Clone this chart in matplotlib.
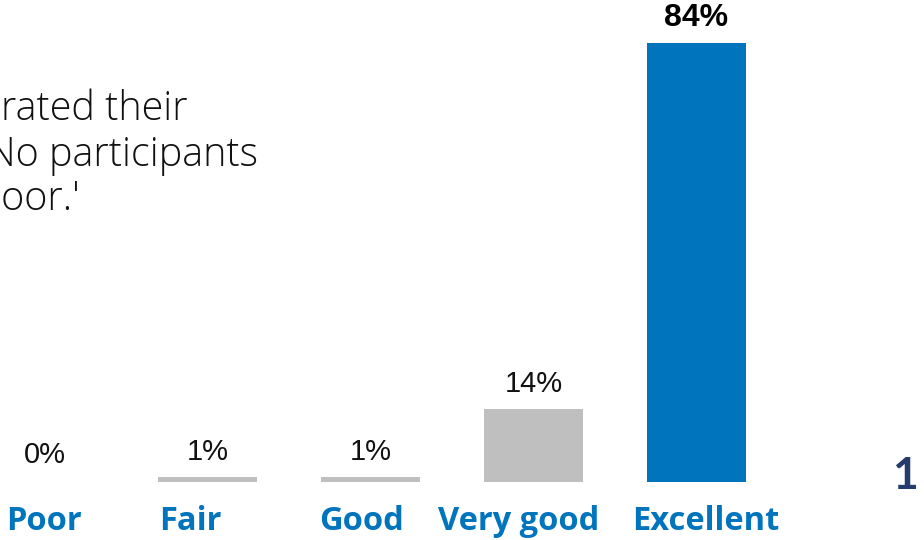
import matplotlib
matplotlib.use("Agg")
import matplotlib.pyplot as plt
import matplotlib.transforms as mtransforms

categories = ["Poor", "Fair", "Good", "Very good", "Excellent"]
shares = [0, 1, 1, 14, 84]
value_labels = ["0%", "1%", "1%", "14%", "84%"]
highlight = "Excellent"

body_lines = ["rated their", "No participants", "Poor.'"]
slide_number = "1"

BLUE = "#0074bc"
GREY = "#bfbfbf"
NAVY = "#253c6e"
INK = "#111111"

W, H, DPI = 924, 540, 100
fig = plt.figure(figsize=(W / DPI, H / DPI), dpi=DPI)
fig.patch.set_facecolor("white")

# pixel layout of the plotting area: bar baseline and spacing
base_px = 482
step_px = 163
first_px = 44.5
unit_px = 439 / 84

ax = fig.add_axes([0, 0, 1, 1])
ax.set_xlim(-first_px / step_px, (W - first_px) / step_px)
ax.set_ylim(-(H - base_px) / unit_px, base_px / unit_px)
ax.axis("off")

xs = list(range(len(categories)))
colors = [BLUE if c == highlight else GREY for c in categories]
ax.bar(xs, shares, width=0.61, color=colors, linewidth=0)

for x, v, lab, cat in zip(xs, shares, value_labels, categories):
    bold = cat == highlight
    ax.annotate(lab, (x, v), xytext=(0, 12 if v > 0 else 14), textcoords="offset points",
                ha="center", va="baseline", fontsize=23 if bold else 21,
                fontweight="bold" if bold else "normal",
                family="Liberation Sans", color="black" if bold else INK)

# category names under the bars (hand-nudged text boxes, in pixels)
label_nudge = [-1, -17, -9, -15, 9]
trans = mtransforms.blended_transform_factory(ax.transData, fig.transFigure)
for x, cat, dx in zip(xs, categories, label_nudge):
    ax.text(x + dx / step_px, 10 / H, cat, transform=trans, ha="center", va="baseline",
            fontsize=23.5, fontweight="bold", family="Open Sans", color=BLUE)

# body copy, running in from the left edge
body_x = [1, -13, -22]
body_y = [120, 166, 210]
for txt, bx, by in zip(body_lines, body_x, body_y):
    fig.text(bx / W, 1 - by / H, txt, ha="left", va="baseline", fontsize=28.5,
             family="Open Sans", fontweight="light", color=INK)

fig.text(892 / W, 1 - 489 / H, slide_number, ha="left", va="baseline",
         fontsize=32, fontweight="bold", family="Lato", color=NAVY)

fig.savefig("out.png", dpi=DPI, facecolor="white")
